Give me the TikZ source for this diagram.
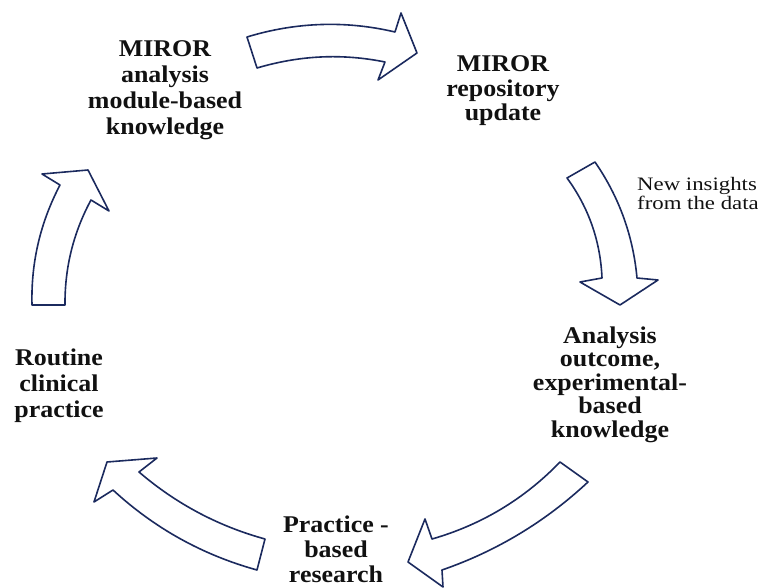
\documentclass[tikz,border=0pt]{standalone}
\usepackage{fontspec}
\setmainfont{Liberation Serif}
\newfontfamily\lblfont{Liberation Serif}[FakeStretch=1.08]
\newfontfamily\notefont{Liberation Serif}[FakeStretch=1.2]
\definecolor{arrowblue}{HTML}{1B2A5E}
\definecolor{textdark}{HTML}{111111}
\tikzset{
  bigarrow/.style={draw=arrowblue, line width=1.6pt, fill=white, line join=round},
  lbl/.style={align=center, inner sep=0pt, anchor=base, text=textdark,
    font=\lblfont\bfseries\fontsize{24}{26}\selectfont},
  note/.style={align=left, inner sep=0pt, anchor=base west, text=textdark,
    font=\notefont\fontsize{19}{19}\selectfont}
}
\begin{document}
\begin{tikzpicture}[x=1pt,y=-1pt]
\useasboundingbox (0,0) rectangle (758,588);

% top arrow (left -> right)
\draw[bigarrow] (247,37) .. controls (296,22) and (346,20.4) .. (395,32)
  -- (401,13) -- (417,53) -- (378,80) -- (385,62)
  .. controls (342,53.3) and (300,55.3) .. (257,68) -- cycle;

% right arrow (downwards)
\draw[bigarrow] (567,178) -- (595,162)
  .. controls (619.1,197) and (633.1,235.7) .. (637,278)
  -- (658,280) -- (620,305) -- (580,282) -- (602,278)
  .. controls (600.4,241.2) and (588.8,207.8) .. (567,178) -- cycle;

% bottom-right arrow
\draw[bigarrow] (560,462) .. controls (524.2,499.1) and (481.6,524.7) .. (432,539)
  -- (425,519) -- (408,562) -- (443,587) -- (442,570)
  .. controls (496.9,551) and (545.5,521.6) .. (588,482) -- cycle;

% bottom-left arrow
\draw[bigarrow] (107,462) -- (157,458) -- (139,472)
  .. controls (176,503.7) and (218,526.1) .. (265,539)
  -- (257,570)
  .. controls (202.5,554.9) and (154.5,528.3) .. (113,490)
  -- (94,502) -- cycle;

% left arrow (upwards)
\draw[bigarrow] (32,305) -- (65,305)
  .. controls (64.7,267.8) and (73.3,232.8) .. (91,200)
  -- (109,211) -- (88,170) -- (42,174) -- (60,185)
  .. controls (40.3,222.6) and (30.9,262.6) .. (32,305) -- cycle;

% labels (anchor = baseline of last line)
\node[lbl] (analysis) at (165,135) {MIROR\\analysis\\module-based\\knowledge};
\node[lbl, font=\lblfont\bfseries\fontsize{24}{24.5}\selectfont] (repo) at (503,121) {MIROR\\repository\\update};
\node[lbl, font=\lblfont\bfseries\fontsize{24}{23.5}\selectfont] (outcome) at (610,437)
  {Analysis\\outcome,\\experimental-\\based\\knowledge};
\node[lbl, font=\lblfont\bfseries\fontsize{24}{25}\selectfont] (research) at (336,582) {Practice -\\based\\research};
\node[lbl] (routine) at (59,417) {Routine\\clinical\\practice};
\node[note] (insights) at (637,210) {New insights\\from the data};
\end{tikzpicture}
\end{document}
